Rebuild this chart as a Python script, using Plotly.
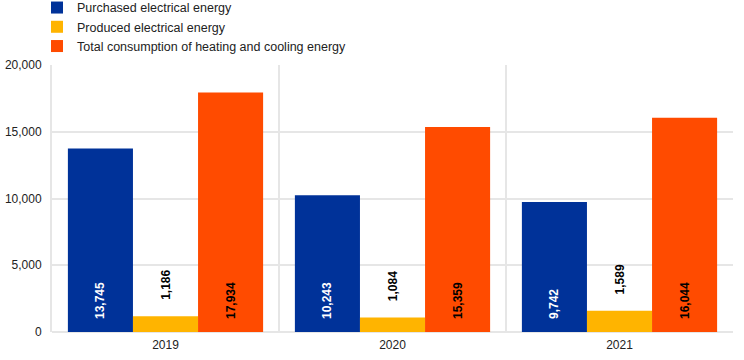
import plotly.graph_objects as go

years = ["2019", "2020", "2021"]
purchased = [13745, 10243, 9742]
produced = [1186, 1084, 1589]
heating = [17934, 15359, 16044]

names = ["Purchased electrical energy", "Produced electrical energy",
         "Total consumption of heating and cooling energy"]
colors = ["#003299", "#FFB400", "#FF4B00"]

def fmt(v):
    return f"{v:,}"

fig = go.Figure()
pad = "\u00a0\u00a0\u00a0"
opad = "\u00a0\u00a0\u00a0\u00a0"
fig.add_trace(go.Bar(x=years, y=purchased, name=names[0], marker_color=colors[0],
                     text=[pad + fmt(v) for v in purchased], textposition="inside",
                     insidetextanchor="start", textangle=-90,
                     textfont=dict(color="white", size=12, family="Arial"),
                     texttemplate="<b>%{text}</b>"))
fig.add_trace(go.Bar(x=years, y=produced, name=names[1], marker_color=colors[1],
                     text=[opad + fmt(v) for v in produced], textposition="outside",
                     textangle=-90, cliponaxis=False,
                     textfont=dict(color="black", size=12, family="Arial"),
                     texttemplate="<b>%{text}</b>"))
fig.add_trace(go.Bar(x=years, y=heating, name=names[2], marker_color=colors[2],
                     text=[pad + fmt(v) for v in heating], textposition="inside",
                     insidetextanchor="start", textangle=-90,
                     textfont=dict(color="black", size=12, family="Arial"),
                     texttemplate="<b>%{text}</b>"))

fig.update_traces(marker_line_width=0)

fig.update_layout(
    width=744, height=360,
    margin=dict(l=52, r=11, t=65, b=28, autoexpand=False),
    plot_bgcolor="white", paper_bgcolor="white",
    font=dict(family="Arial", size=12, color="#222222"),
    barmode="group", bargap=0.14, bargroupgap=0,
    showlegend=True,
    legend=dict(x=-0.022, y=1.27, xanchor="left", yanchor="top",
                font=dict(size=12.5, color="#222222"), tracegroupgap=0,
                bgcolor="rgba(0,0,0,0)", itemwidth=30),
    xaxis=dict(type="category", tickson="boundaries", showgrid=True,
               gridcolor="#e6e6e6", gridwidth=2, ticks="", showline=False,
               range=[-0.5, 2.5], zeroline=False, automargin=False,
               ticklabelstandoff=4),
    yaxis=dict(range=[0, 20000], dtick=5000, tickformat=",", showgrid=True,
               gridcolor="#e6e6e6", gridwidth=2, zeroline=True,
               zerolinecolor="#e6e6e6", zerolinewidth=2, showline=True,
               linecolor="#e6e6e6", linewidth=2, ticks="", ticklabelstandoff=6,
               automargin=False),
)

fig.write_html("out.html", config={"displayModeBar": False},
               post_script="document.body.style.margin='0';document.body.style.overflow='hidden';")
